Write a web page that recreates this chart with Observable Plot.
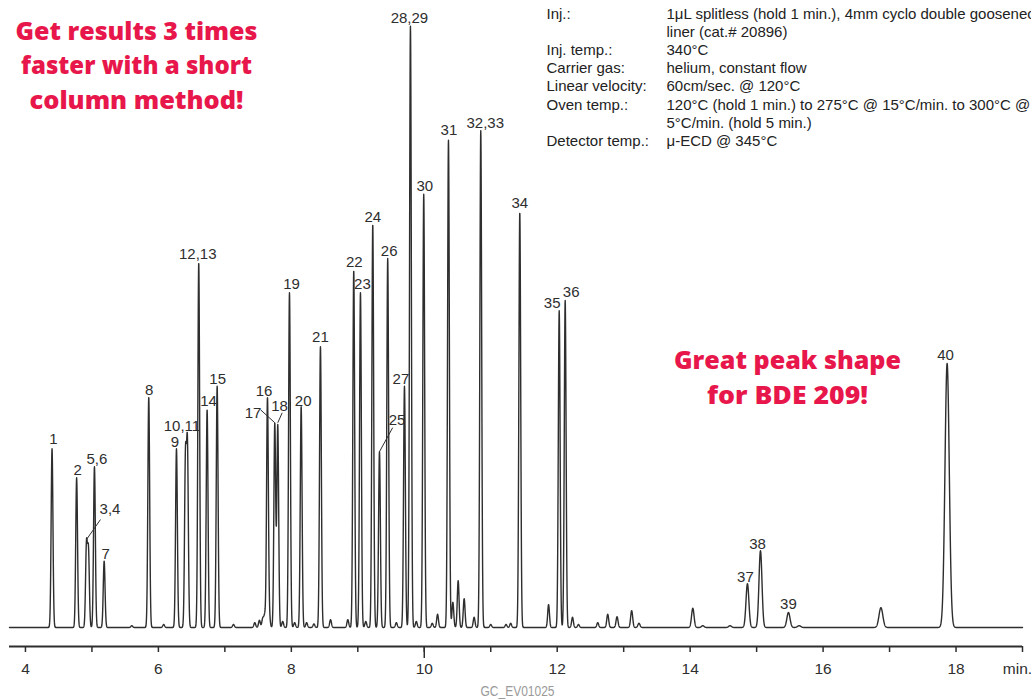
<!DOCTYPE html>
<html><head><meta charset="utf-8">
<script src="https://cdn.jsdelivr.net/npm/d3@7"></script>
<script src="https://cdn.jsdelivr.net/npm/@observablehq/plot@0.6"></script>
<style>
html,body{margin:0;padding:0;background:#fff;overflow:hidden;}
#chart{width:1031px;height:699px;}
</style></head><body><div id="chart"></div>
<script>
// ---- Labeled peaks (retention time in min, height in relative units) ----
const labelNames = ["1","2","3,4","5,6","7","8","9","10,11","12,13","14","15","16","17","18","19","20","21","22","23","24","25","26","27","28,29","30","31","32,33","34","35","36","37","38","39","40"];
const labelTimes = [4.40,4.77,4.918,5.038,5.184,5.855,6.272,6.437,6.607,6.733,6.884,7.641,7.751,7.796,7.972,8.148,8.438,8.939,9.04,9.225,9.326,9.45,9.702,9.792,9.992,10.364,10.85,11.437,12.03,12.12,14.862,15.058,15.479,17.866];
const labelHeights = [29.8,24.95,13.6,26.8,11.05,38.4,29.8,29.5,60.8,36.3,40.2,38.2,34,33.7,55.8,36.8,46.8,59.5,55.8,67.2,29.3,61.5,40.2,100.2,72.2,81.2,82.8,69.2,52.8,54.5,7.3,12.8,2.5,44];

// ---- Unlabeled / co-eluting components ----
const minorTimes = [4.948,6.407,5.60,6.08,7.13,7.45,7.52,7.57,7.60,7.67,7.87,8.05,8.23,8.34,8.59,8.85,9.12,9.58,9.88,10.12,10.20,10.43,10.51,10.60,10.75,11.00,11.23,11.30,11.87,12.23,12.32,12.61,12.76,12.90,13.12,13.23,14.04,14.19,14.60,15.64,16.87];
const minorHeights = [12.5,27.5,0.3,0.5,0.5,0.8,1.2,1.5,2.0,1.5,1.0,0.8,0.8,0.6,1.3,1.3,1.0,0.8,1.0,0.7,2.2,4.2,7.8,4.8,1.7,0.5,0.5,0.7,3.8,1.7,0.5,0.8,2.2,1.8,2.8,0.7,3.2,0.3,0.3,0.3,3.3];

// ---- Axis ticks ----
const minorTicks = d3.range(4, 20);
const tickLabels = [4,6,8,10,12,14,16,18];

// ---- Texts ----
const promo1Lines = ["Get results 3 times","faster with a short","column method!"];
const promo2Lines = ["Great peak shape","for BDE 209!"];
const setupKeys = ["Inj.:","\u00a0","Inj. temp.:","Carrier gas:","Linear velocity:","Oven temp.:","\u00a0","Detector temp.:"];
const setupVals = ["1\u03bcL splitless (hold 1 min.), 4mm cyclo double gooseneck","liner (cat.# 20896)","340\u00b0C","helium, constant flow","60cm/sec. @ 120\u00b0C","120\u00b0C (hold 1 min.) to 275\u00b0C @ 15\u00b0C/min. to 300\u00b0C @","5\u00b0C/min. (hold 5 min.)","\u03bc-ECD @ 345\u00b0C"];
const figureCode = "GC_EV01025";

// ---- layout / style ----
const W = 1031, H = 699, ML = 9, MR = 9, MB = 53;
const X_DOMAIN = [3.76, 19];
const Y_MIN = -19/6, Y_MAX = 104.5;
const PX_MIN = (W - ML - MR) / (X_DOMAIN[1] - X_DOMAIN[0]);
const PX_UNIT = (H - MB) / (Y_MAX - Y_MIN);
const promoWidths1 = [242, 231, 214];
const promoWidths2 = [227, 161];

function sigmaAt(t) { return t < 12.5 ? 0.0135 : 0.0135 + (t - 12.5) * 0.0035; }
const comps = labelTimes.map((t, i) => ({t, h: labelHeights[i]}))
  .concat(minorTimes.map((t, i) => ({t, h: minorHeights[i]})));
function signal(t) {
  let s = 0;
  for (const c of comps) {
    const z = (t - c.t) / sigmaAt(c.t);
    if (Math.abs(z) < 8) s += c.h * Math.exp(-0.5 * z * z);
  }
  return s;
}
const trace = d3.range(X_DOMAIN[0], X_DOMAIN[1] + 1e-9, 0.002).map(t => ({t, v: signal(t)}));

const nudges = {
  "1":[1.5,-10],"2":[1,-8],"3,4":[23.5,-30],"5,6":[2.5,-8],"7":[1.5,-7.5],"8":[0.5,-6.5],"9":[-1.5,-7],
  "10,11":[-5.5,-10.5],"12,13":[-1,-9],"14":[1.5,-9],"15":[0.5,-7],"16":[-3.5,-6.5],"17":[-21.8,-9.7],
  "18":[1.7,-18.3],"19":[2,-9],"20":[2,-6],"21":[0,-10],"22":[0.5,-8],"23":[2,-9],"24":[0,-7.5],
  "25":[17.5,-31.4],"26":[1.5,-7],"27":[-3.5,-7.5],"28,29":[-1,-8],"30":[1,-8],"31":[0.5,-10],
  "32,33":[4.5,-8],"34":[0,-9],"35":[-7,-8],"36":[6,-8],"37":[-2,-7],"38":[-3,-6.5],"39":[0,-8.5],"40":[-1.5,-8]
};
const leaderDefs = {"3,4":[[0,0],[14,-20]], "17":[[0,0],[-14.3,-13]], "18":[[0,-1.7],[4.4,-11.7]], "25":[[0,0],[13.2,-24]]};

const labelRows = labelNames.map((name, i) => ({name, t: labelTimes[i], v: signal(labelTimes[i])}));
const leaderRows = labelRows.filter(r => leaderDefs[r.name]).map(r => {
  const [a, b] = leaderDefs[r.name];
  return {x1: r.t + a[0]/PX_MIN, y1: r.v - a[1]/PX_UNIT, x2: r.t + b[0]/PX_MIN, y2: r.v - b[1]/PX_UNIT};
});

const ink = "#2e2e2e";
const red = "#e8174b";
const sans = "'Liberation Sans', Arial, Helvetica, sans-serif";
const promoFont = "'Open Sans', Lato, sans-serif";

const chart = Plot.plot({
  width: W, height: H, marginTop: 0, marginLeft: ML, marginRight: MR, marginBottom: MB,
  x: {domain: X_DOMAIN},
  y: {domain: [Y_MIN, Y_MAX], axis: null},
  style: {fontFamily: sans, background: "#fff", color: ink},
  marks: [
    Plot.ruleY([Y_MIN], {stroke: ink, strokeWidth: 1.8}),
    Plot.axisX({ticks: minorTicks, tickSize: 6, tickFormat: () => "", stroke: ink, strokeWidth: 1.5, label: null}),
    Plot.axisX({ticks: [10], tickSize: 12, tickFormat: () => "", stroke: ink, strokeWidth: 1.5, label: null}),
    Plot.axisX({ticks: tickLabels, tickSize: 0, tickPadding: 16.5, fontSize: 15.5, fill: ink, label: null}),
    Plot.text(["min."], {frameAnchor: "bottom-right", textAnchor: "middle", lineAnchor: "top", dx: -5, dy: 16.5, fontSize: 15.5, fill: ink}),
    Plot.line(trace, {x: "t", y: "v", stroke: ink, strokeWidth: 1.4}),
    Plot.link(leaderRows, {x1: "x1", y1: "y1", x2: "x2", y2: "y2", stroke: ink, strokeWidth: 1}),
    ...labelRows.map(r => {
      const [dx, dy] = nudges[r.name] || [0, -9];
      return Plot.text([r], {x: "t", y: "v", text: "name", dx, dy, fontSize: 15, fill: ink, lineAnchor: "middle"});
    }),
    Plot.text([promo1Lines.join("\n")], {frameAnchor: "top-left", textAnchor: "middle", lineAnchor: "top", dx: 127, dy: 14.5,
      fontSize: 24, fontWeight: 800, fill: red, lineHeight: 1.44, fontFamily: promoFont, className: "promo1"}),
    Plot.text([promo2Lines.join("\n")], {frameAnchor: "top-left", textAnchor: "middle", lineAnchor: "top", dx: 778, dy: 344,
      fontSize: 24, fontWeight: 800, fill: red, lineHeight: 1.46, fontFamily: promoFont, className: "promo2"}),
    Plot.text([setupKeys.join("\n")], {frameAnchor: "top-left", dx: 537, dy: 5.5, fontSize: 15, lineHeight: 1.209, fill: "#222"}),
    Plot.text([setupVals.join("\n")], {frameAnchor: "top-left", dx: 657, dy: 5.5, fontSize: 15, lineHeight: 1.209, fill: "#222"}),
    Plot.text([figureCode], {frameAnchor: "bottom", textAnchor: "middle", lineAnchor: "bottom", dx: 1.5, dy: 49,
      fontSize: 15, fill: "#9a9a9a", className: "figcode"})
  ]
});

// fit promo lines and figure code to the reference widths
d3.select(chart).selectAll(".promo1 tspan").each(function(_, i) {
  this.setAttribute("textLength", promoWidths1[i]); this.setAttribute("lengthAdjust", "spacingAndGlyphs");
});
d3.select(chart).selectAll(".promo2 tspan").each(function(_, i) {
  this.setAttribute("textLength", promoWidths2[i]); this.setAttribute("lengthAdjust", "spacingAndGlyphs");
});
d3.select(chart).selectAll(".figcode text").attr("textLength", 74).attr("lengthAdjust", "spacingAndGlyphs");

document.getElementById("chart").append(chart);
</script></body></html>
